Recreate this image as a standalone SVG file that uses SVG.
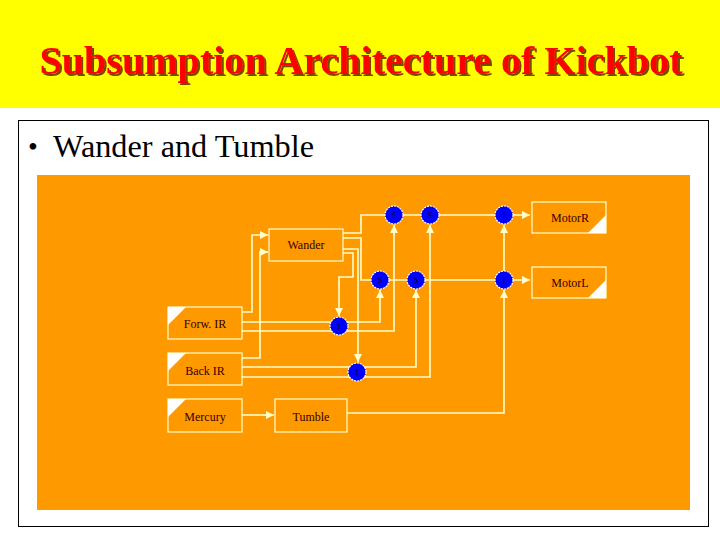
<svg xmlns="http://www.w3.org/2000/svg" width="720" height="540" viewBox="0 0 720 540">
<defs>
<marker id="ah" viewBox="0 0 8 8" refX="8" refY="4" markerWidth="8" markerHeight="8" markerUnits="userSpaceOnUse" orient="auto">
<path d="M0,0 L8,4 L0,8 Z" fill="#FFFFCC"/>
</marker>
<filter id="shadow" x="-5%" y="-20%" width="110%" height="150%">
<feDropShadow dx="2" dy="2" stdDeviation="0.4" flood-color="#7a4a00" flood-opacity="1"/>
</filter>
<style>
.box{fill:#FF9900;stroke:#FFFFCC;stroke-width:1.2}
.tri{fill:#FFFFFF}
.lbl{font-family:"Liberation Serif",serif;font-size:12px;fill:#330000;text-anchor:middle}
.c{fill:#0000FF;stroke:#FFFFFF;stroke-width:1.2;stroke-dasharray:2 1}
.cl{font-family:"Liberation Serif",serif;font-size:8px;fill:#000033;text-anchor:middle}
.w{fill:none;stroke:#FFFFCC;stroke-width:1.6}
</style>
</defs>
<rect x="0" y="0" width="720" height="540" fill="#FFFFFF"/>
<rect x="0" y="0" width="720" height="108" fill="#FFFF00"/>
<text x="361" y="74" font-family="'Liberation Serif',serif" font-weight="bold" font-size="40" fill="#FF0000" textLength="643" lengthAdjust="spacingAndGlyphs" text-anchor="middle" filter="url(#shadow)">Subsumption Architecture of Kickbot</text>
<rect x="18.5" y="120.5" width="690" height="406" fill="#FFFFFF" stroke="#000000" stroke-width="1"/>
<text x="28" y="156" font-family="'Liberation Serif',serif" font-size="28" fill="#000000">•</text>
<text x="53" y="157" font-family="'Liberation Serif',serif" font-size="32" fill="#000000" textLength="261" lengthAdjust="spacingAndGlyphs">Wander and Tumble</text>
<rect x="37" y="175" width="653" height="335" fill="#FF9900"/>

<g id="connectors">
<path class="w" d="M343,233 H361 V215 H530" marker-end="url(#ah)"/>
<path class="w" d="M343,238 H361 V280 H530" marker-end="url(#ah)"/>
<path class="w" d="M343,249 H358 V362" marker-end="url(#ah)"/>
<path class="w" d="M343,253 H353 V277 H339 V316" marker-end="url(#ah)"/>
<path class="w" d="M242,312 H252 V235 H268" marker-end="url(#ah)"/>
<path class="w" d="M242,358 H260 V252 H268" marker-end="url(#ah)"/>
<path class="w" d="M242,322 H380 V290" marker-end="url(#ah)"/>
<path class="w" d="M242,331 H394 V225" marker-end="url(#ah)"/>
<path class="w" d="M242,367 H416 V290" marker-end="url(#ah)"/>
<path class="w" d="M242,377 H430 V225" marker-end="url(#ah)"/>
<path class="w" d="M242,415 H274" marker-end="url(#ah)"/>
<path class="w" d="M347,413 H504 V290" marker-end="url(#ah)"/>
<path class="w" d="M504,271 V225" marker-end="url(#ah)"/>
</g>

<g id="motorR">
<rect class="box" x="532" y="202" width="74" height="31"/>
<path class="tri" d="M606,233 L606,215 L588,233 Z"/>
<text class="lbl" x="570" y="222">MotorR</text>
</g>
<g id="motorL">
<rect class="box" x="532" y="267" width="74" height="31"/>
<path class="tri" d="M606,298 L606,280 L588,298 Z"/>
<text class="lbl" x="570" y="287">MotorL</text>
</g>
<g id="wander">
<rect class="box" x="269" y="229" width="74" height="32"/>
<text class="lbl" x="306" y="249">Wander</text>
</g>
<g id="forwIR">
<rect class="box" x="168" y="307" width="74" height="32"/>
<path class="tri" d="M168,307 L186,307 L168,325 Z"/>
<text class="lbl" x="205" y="328">Forw. IR</text>
</g>
<g id="backIR">
<rect class="box" x="168" y="353" width="74" height="32"/>
<path class="tri" d="M168,353 L186,353 L168,371 Z"/>
<text class="lbl" x="205" y="375">Back IR</text>
</g>
<g id="mercury">
<rect class="box" x="168" y="399" width="74" height="33"/>
<path class="tri" d="M168,399 L186,399 L168,417 Z"/>
<text class="lbl" x="205" y="421">Mercury</text>
</g>
<g id="tumble">
<rect class="box" x="275" y="399" width="72" height="33"/>
<text class="lbl" x="311" y="421">Tumble</text>
</g>

<g id="n1"><circle class="c" cx="394" cy="215" r="9"/><text class="cl" x="394" y="218">S</text></g>
<g id="n2"><circle class="c" cx="430" cy="215" r="9"/><text class="cl" x="430" y="218">S</text></g>
<g id="n3"><circle class="c" cx="504" cy="215" r="9"/><text class="cl" x="504" y="218">I</text></g>
<g id="n4"><circle class="c" cx="380" cy="280" r="9"/><text class="cl" x="380" y="283">S</text></g>
<g id="n5"><circle class="c" cx="416" cy="280" r="9"/><text class="cl" x="416" y="283">S</text></g>
<g id="n6"><circle class="c" cx="504" cy="280" r="9"/><text class="cl" x="504" y="283">I</text></g>
<g id="n7"><circle class="c" cx="339" cy="326" r="9"/><text class="cl" x="339" y="329">I</text></g>
<g id="n8"><circle class="c" cx="357" cy="372" r="9"/><text class="cl" x="357" y="375">I</text></g>
</svg>
